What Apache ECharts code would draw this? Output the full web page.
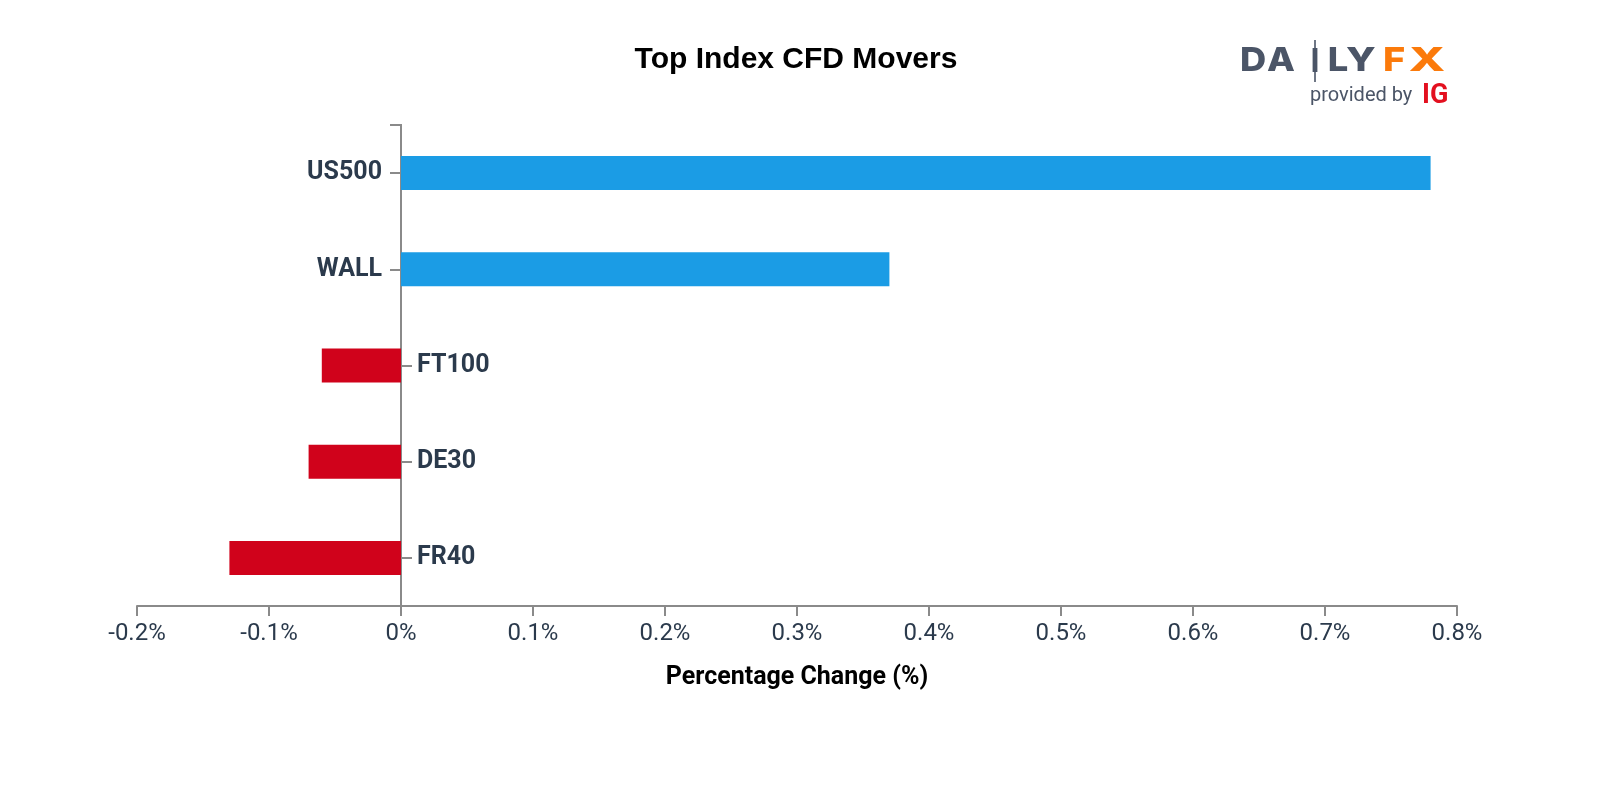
<!DOCTYPE html>
<html>
<head>
<meta charset="utf-8">
<script src="https://cdn.jsdelivr.net/npm/echarts@6/dist/echarts.min.js"></script>
<style>
html,body{margin:0;padding:0;background:#fff;}
#chart{width:1600px;height:800px;}
</style>
</head>
<body>
<div id="chart"></div>
<script>
const categories = ['US500', 'WALL', 'FT100', 'DE30', 'FR40'];
const values = [0.78, 0.37, -0.06, -0.07, -0.13];
const xMin = -0.2;
const xMax = 0.8;
const xStep = 0.1;
const titleText = 'Top Index CFD Movers';
const xAxisTitle = 'Percentage Change (%)';

const POS_COLOR = '#1b9ce5';
const NEG_COLOR = '#d0021b';
const AXIS_COLOR = '#8a8a8a';
const TEXT_COLOR = '#2b3a4c';
const LOGO_GRAY = '#4b5567';
const LOGO_ORANGE = '#fb7a0b';

const chart = echarts.init(document.getElementById('chart'), null, {renderer: 'canvas'});

const labelBase = {
  show: true,
  fontFamily: 'Roboto, sans-serif',
  fontWeight: 'bold',
  fontSize: 25,
  color: TEXT_COLOR,
  formatter: p => categories[p.dataIndex]
};

const barData = values.map(v => ({
  value: v,
  itemStyle: {color: v >= 0 ? POS_COLOR : NEG_COLOR},
  label: v >= 0 ? {position: 'left', distance: 19} : {position: 'right', distance: 16}
}));

const logoFont = '800 33px Inter, "Open Sans", sans-serif';
const logoLetters = [
  ['D', 1253, LOGO_GRAY, 1.1], ['A', 1281, LOGO_GRAY, 1.1], ['L', 1338, LOGO_GRAY, 1.1],
  ['Y', 1361, LOGO_GRAY, 1.2], ['F', 1394, LOGO_ORANGE, 1.15], ['X', 1427, LOGO_ORANGE, 1.45]
];

const graphics = logoLetters.map(([ch, x, c, sx]) => ({
  type: 'text', x: x, y: 61, scaleX: sx,
  style: {text: ch, fill: c, font: logoFont, textAlign: 'center', textVerticalAlign: 'middle'}
}));
graphics.push({type: 'rect', shape: {x: 1314.2, y: 40, width: 1.6, height: 42}, style: {fill: LOGO_GRAY}});
graphics.push({type: 'rect', shape: {x: 1312.6, y: 48, width: 4.8, height: 24}, style: {fill: LOGO_GRAY}});
graphics.push({
  type: 'text', x: 1310, y: 96,
  style: {text: 'provided by', fill: LOGO_GRAY, font: '20px Roboto, sans-serif', textAlign: 'left', textVerticalAlign: 'middle'}
});
graphics.push({
  type: 'text', x: 1422, y: 96,
  style: {text: 'IG', fill: '#e3101f', font: 'bold 27px Roboto, sans-serif', textAlign: 'left', textVerticalAlign: 'middle'}
});

const yAxisBase = {
  type: 'category',
  data: categories,
  inverse: true,
  splitLine: {show: false},
  axisLabel: {show: false}
};

const option = {
  backgroundColor: '#ffffff',
  animation: false,
  title: {
    text: titleText,
    left: 791,
    top: 40,
    textAlign: 'center',
    textStyle: {fontFamily: '"Liberation Sans", Arial, sans-serif', fontWeight: 'bold', fontSize: 30, color: '#000'}
  },
  grid: {left: 137, right: 143, top: 125, bottom: 194, outerBoundsMode: 'none', containLabel: false},
  xAxis: {
    type: 'value',
    min: xMin,
    max: xMax,
    interval: xStep,
    name: xAxisTitle,
    nameLocation: 'middle',
    nameGap: 59,
    nameTextStyle: {fontFamily: 'Roboto, sans-serif', fontWeight: 'bold', fontSize: 25, color: '#000'},
    axisLine: {show: true, onZero: false, lineStyle: {color: AXIS_COLOR, width: 2}},
    axisTick: {show: true, length: 10, lineStyle: {color: AXIS_COLOR, width: 2}},
    splitLine: {show: false},
    axisLabel: {
      margin: 16,
      fontFamily: 'Roboto, sans-serif',
      fontSize: 24,
      color: TEXT_COLOR,
      formatter: v => (Math.round(v * 10) / 10) + '%'
    }
  },
  yAxis: [
    Object.assign({}, yAxisBase, {
      position: 'left',
      axisLine: {show: true, onZero: true, onZeroAxisIndex: 0, lineStyle: {color: AXIS_COLOR, width: 2}},
      axisTick: {show: true, alignWithLabel: true, length: 11,
        interval: (i) => values[i] >= 0,
        lineStyle: {color: AXIS_COLOR, width: 2}}
    }),
    Object.assign({}, yAxisBase, {
      position: 'right',
      axisLine: {show: true, onZero: true, onZeroAxisIndex: 0, lineStyle: {color: AXIS_COLOR, width: 2}},
      axisTick: {show: true, alignWithLabel: true, length: 11,
        interval: (i) => values[i] < 0,
        lineStyle: {color: AXIS_COLOR, width: 2}}
    }),
    Object.assign({}, yAxisBase, {
      position: 'left',
      axisLine: {show: true, onZero: true, onZeroAxisIndex: 0, lineStyle: {color: AXIS_COLOR, width: 2}},
      axisTick: {show: true, alignWithLabel: false, length: 11,
        interval: (i) => i === 0,
        lineStyle: {color: AXIS_COLOR, width: 2}}
    })
  ],
  series: [{
    type: 'bar',
    yAxisIndex: 0,
    barWidth: 34,
    data: barData,
    label: labelBase
  }],
  graphic: graphics
};

chart.setOption(option);
</script>
</body>
</html>
